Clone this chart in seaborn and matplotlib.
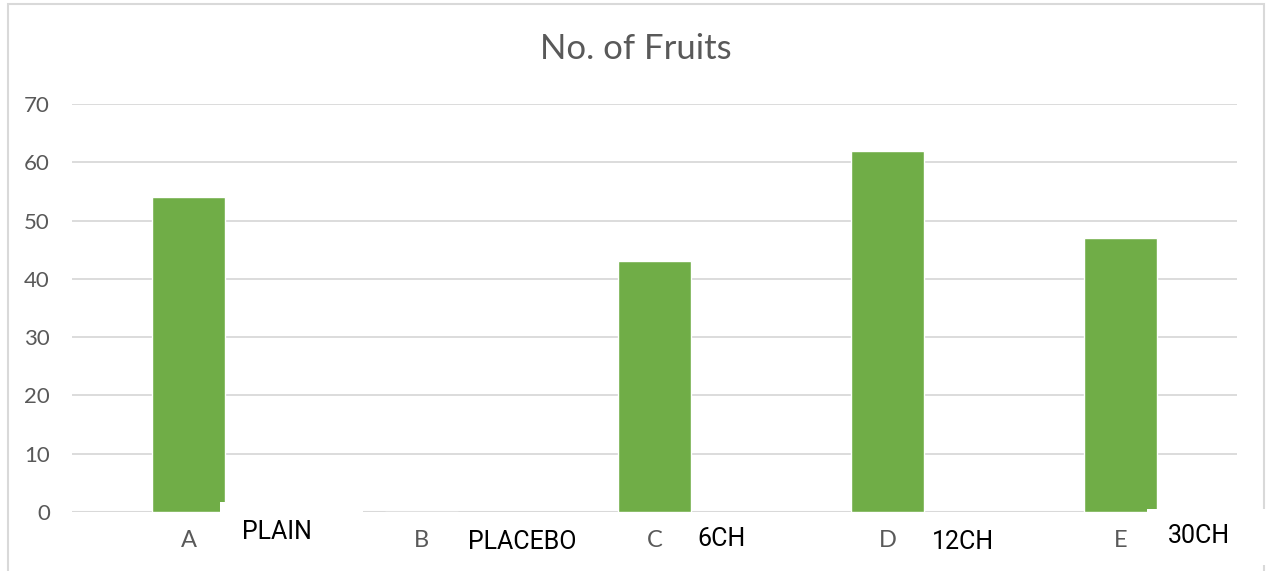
import matplotlib
matplotlib.use("Agg")
import matplotlib.pyplot as plt
import seaborn as sns
import pandas as pd
from matplotlib import font_manager
from matplotlib.patches import Rectangle

# data
categories = ["A", "B", "C", "D", "E"]
fruits = [54, 0, 43, 62, 47]
treatments = ["PLAIN", "PLACEBO", "6CH", "12CH", "30CH"]

df = pd.DataFrame({"group": categories, "fruits": fruits})

names = {f.name for f in font_manager.fontManager.ttflist}
narrow = "Liberation Sans Narrow" if "Liberation Sans Narrow" in names else "Roboto"

sns.set_style("white")
plt.rcParams["font.family"] = ["Lato", "DejaVu Sans"]

W, H = 1266, 571
fig = plt.figure(figsize=(W / 100, H / 100), dpi=100)

def fx(px):
    return px / W

def fy(py):
    return 1 - py / H

# outer chart frame
fig.patches.append(Rectangle((fx(8), fy(620)), fx(1264) - fx(8), fy(4) - fy(620),
                             transform=fig.transFigure, fill=False,
                             edgecolor="#d9d9d9", linewidth=1.5))

ax = fig.add_axes([fx(72), fy(512), fx(1237) - fx(72), fy(104) - fy(512)])
sns.barplot(data=df, x="group", y="fruits", color="#70ad47", width=0.313,
            saturation=1, ax=ax, zorder=3)
ax.set_xlim(-0.5, 4.5)
ax.set_ylim(0, 70)
ax.set_yticks(range(0, 71, 10))
ax.yaxis.grid(True, color="#d9d9d9", linewidth=1.3, zorder=0)
ax.set_axisbelow(True)
for s in ax.spines.values():
    s.set_visible(False)
ax.axhline(0, color="#d9d9d9", linewidth=1.5, zorder=1)
ax.tick_params(axis="y", length=0, pad=16, labelsize=16, labelcolor="#595959")
ax.tick_params(axis="x", length=0, pad=13, labelsize=17, labelcolor="#595959")
ax.set_xlabel("")
ax.set_ylabel("")

fig.text(fx(636), fy(49), "No. of Fruits", ha="center", va="center",
         fontsize=25, color="#595959")

# pasted text boxes that sit over the category axis
boxes = [(220, 502, 363), (676, 512, 818), (1147, 509, 1290)]
for x0, y0, x1 in boxes:
    fig.patches.append(Rectangle((fx(x0), fy(565)), fx(x1) - fx(x0), fy(y0) - fy(565),
                                 transform=fig.transFigure, facecolor="white",
                                 edgecolor="none", zorder=5))

label_pos = [(242, 532), (468, 542), (697, 539), (932, 542), (1168, 536)]
for name, (x, y) in zip(treatments, label_pos):
    fig.text(fx(x), fy(y), name, ha="left", va="center", fontsize=18,
             color="black", family=[narrow, "DejaVu Sans"], zorder=6)

fig.savefig("out.png", dpi=100)
